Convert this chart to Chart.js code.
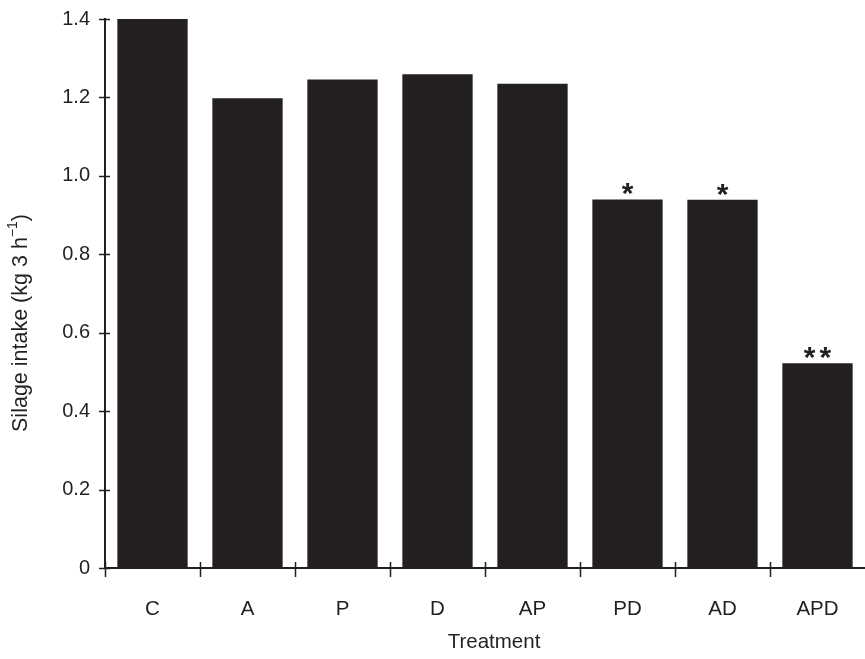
<!DOCTYPE html>
<html>
<head>
<meta charset="utf-8">
<script src="https://cdn.jsdelivr.net/npm/chart.js@4.4.1/dist/chart.umd.min.js"></script>
<style>
  body { margin: 0; background: #fff; }
</style>
</head>
<body>
<canvas id="chart" width="865" height="659"></canvas>
<script>
// ====== DATA ======
const treatments = ["C", "A", "P", "D", "AP", "PD", "AD", "APD"];
const intake = [1.40, 1.198, 1.246, 1.259, 1.235, 0.94, 0.939, 0.522];
const stars = ["", "", "", "", "", "*", "*", "**"];
const yTicks = [0, 0.2, 0.4, 0.6, 0.8, 1.0, 1.2, 1.4];

const INK = "#231f20";
const FONT = "'Liberation Sans', Arial, Helvetica, sans-serif";

// tick marks crossing the axes, stars and axis titles
const extras = {
  id: "extras",
  afterDraw(chart) {
    const { ctx, chartArea } = chart;
    const x = chart.scales.x;
    const y = chart.scales.y;
    ctx.save();
    ctx.strokeStyle = INK;
    ctx.lineWidth = 1.5;

    // y ticks
    yTicks.forEach((v) => {
      const py = Math.round(y.getPixelForValue(v)) + 0.5;
      ctx.beginPath();
      ctx.moveTo(chartArea.left - 6, py);
      ctx.lineTo(chartArea.left + 5, py);
      ctx.stroke();
    });

    // x ticks at category boundaries
    for (let i = 0; i < treatments.length; i++) {
      const px = i === 0 ? chartArea.left
        : (x.getPixelForValue(i - 1) + x.getPixelForValue(i)) / 2;
      ctx.beginPath();
      ctx.moveTo(Math.round(px) + 0.5, chartArea.bottom - 6);
      ctx.lineTo(Math.round(px) + 0.5, chartArea.bottom + 9);
      ctx.stroke();
    }

    // significance stars
    const meta = chart.getDatasetMeta(0);
    ctx.fillStyle = INK;
    ctx.font = "bold 30px " + FONT;
    ctx.textAlign = "center";
    ctx.textBaseline = "alphabetic";
    ctx.letterSpacing = "4px";
    meta.data.forEach((bar, i) => {
      if (!stars[i]) return;
      ctx.fillText(stars[i], bar.x + 2, bar.y + 4);
    });
    ctx.letterSpacing = "0px";

    // x title
    ctx.font = "20.5px " + FONT;
    ctx.textBaseline = "middle";
    ctx.fillText("Treatment", 494, 642);

    // y title with superscript
    ctx.translate(21, 323);
    ctx.rotate(-Math.PI / 2);
    const main = "Silage intake (kg 3 h";
    const sup = "\u22121";
    const close = ")";
    ctx.font = "21.5px " + FONT;
    const w1 = ctx.measureText(main).width;
    const w3 = ctx.measureText(close).width;
    ctx.font = "14px " + FONT;
    const w2 = ctx.measureText(sup).width;
    let sx = -(w1 + w2 + w3) / 2;
    ctx.textAlign = "left";
    ctx.font = "21.5px " + FONT;
    ctx.fillText(main, sx, 0);
    sx += w1;
    ctx.font = "14px " + FONT;
    ctx.fillText(sup, sx, -8);
    sx += w2;
    ctx.font = "21.5px " + FONT;
    ctx.fillText(close, sx, 0);
    ctx.restore();
  },
};

new Chart(document.getElementById("chart"), {
  type: "bar",
  data: {
    labels: treatments,
    datasets: [
      {
        data: intake,
        backgroundColor: INK,
        borderWidth: 0,
        barPercentage: 0.74,
        categoryPercentage: 1,
      },
    ],
  },
  options: {
    responsive: false,
    animation: false,
    layout: { padding: { top: 15, right: 0, left: 0, bottom: 0 } },
    plugins: {
      legend: { display: false },
      tooltip: { enabled: false },
    },
    scales: {
      x: {
        grid: { display: false },
        border: { color: INK, width: 2 },
        ticks: {
          color: INK,
          font: { family: FONT, size: 20.5 },
          padding: 21,
        },
        afterFit: (s) => { s.height = 91; },
      },
      y: {
        min: 0,
        max: 1.4,
        grid: { display: false },
        border: { color: INK, width: 2 },
        afterBuildTicks: (s) => { s.ticks = yTicks.map((v) => ({ value: v })); },
        ticks: {
          color: INK,
          font: { family: FONT, size: 20 },
          padding: 7,
          callback: (v) => (v === 0 ? "0" : Number(v).toFixed(1)),
        },
        afterFit: (s) => { s.width = 105; },
      },
    },
  },
  plugins: [extras],
});
</script>
</body>
</html>
